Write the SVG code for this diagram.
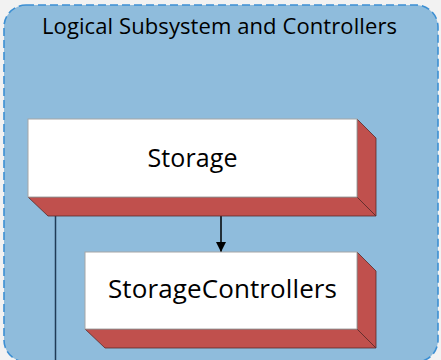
<svg xmlns="http://www.w3.org/2000/svg" width="441" height="360" viewBox="0 0 441 360">
<defs>
<style>
.face{fill:#ffffff;stroke:#a6a6a6;stroke-width:1}
.side{fill:#c0504d;stroke:#5a2a28;stroke-width:0.8;stroke-linejoin:round}
.lbl{font-family:"Open Sans","Noto Sans",sans-serif;fill:#000000;text-anchor:middle}
.conn{stroke:#1f3b57;stroke-width:1.5;fill:none}
</style>
<marker id="arr" viewBox="0 0 10 10" refX="10" refY="5" markerWidth="10" markerHeight="12" markerUnits="userSpaceOnUse" orient="auto">
<path d="M0,0 L10,5 L0,10 z" fill="#000000"/>
</marker>
</defs>
<rect width="441" height="360" fill="#f2f2f2"/>
<g id="container">
<rect x="4" y="5" width="434" height="357" rx="22" ry="22" fill="#8fbcdc" stroke="#3c8fd3" stroke-width="1.6" stroke-dasharray="8,4"/>
<text class="lbl" x="219.5" y="34" font-size="22" textLength="355">Logical Subsystem and Controllers</text>
</g>
<g id="connectors">
<line class="conn" x1="55.5" y1="216" x2="55.5" y2="362"/>
<line x1="221" y1="216" x2="221" y2="252" stroke="#000000" stroke-width="1.5" marker-end="url(#arr)"/>
</g>
<g id="storage">
<polygon class="side" points="28,197 357,197 376,216 48,216"/>
<polygon class="side" points="357,119 376,138 376,216 357,197"/>
<rect class="face" x="28" y="119" width="329" height="78"/>
<text class="lbl" x="192.5" y="167" font-size="25" textLength="90">Storage</text>
</g>
<g id="storagecontrollers">
<polygon class="side" points="85,329 357,329 376,348 105,348"/>
<polygon class="side" points="357,252 376,271 376,348 357,329"/>
<rect class="face" x="85" y="252" width="272" height="77"/>
<text class="lbl" x="222.5" y="298" font-size="26" textLength="229">StorageControllers</text>
</g>
</svg>
